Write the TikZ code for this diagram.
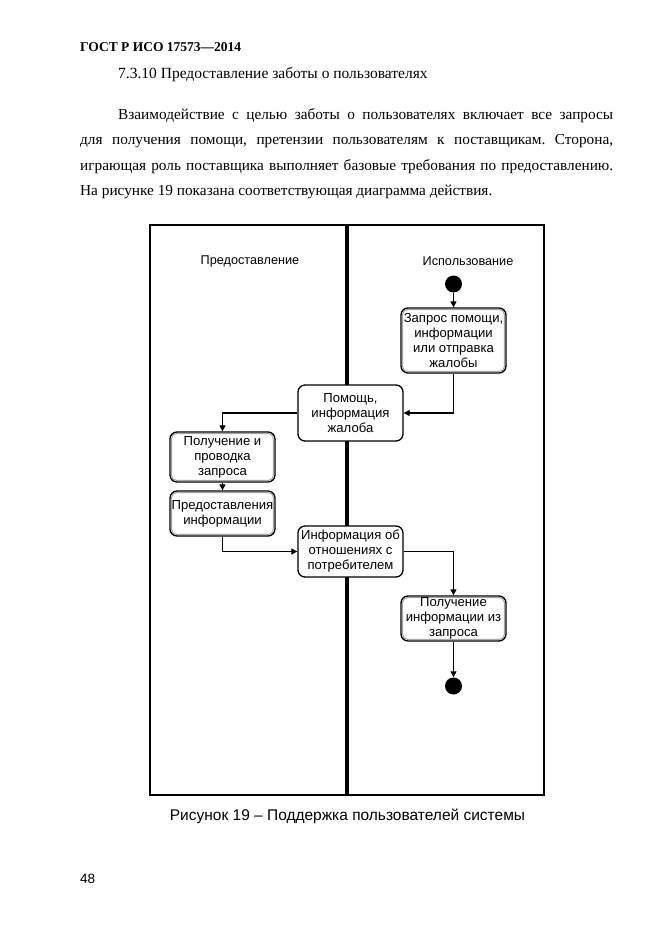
\documentclass[tikz,border=0pt]{standalone}
\usepackage{fontspec}
\setmainfont{Liberation Serif}
\newfontfamily\diafont{Liberation Sans}
\usetikzlibrary{arrows.meta}
\frenchspacing
\tikzset{
  txt/.style={inner sep=0pt, anchor=base west},
  para/.style={txt, font=\fontsize{15.3}{17}\selectfont},
  lbl/.style={inner sep=0pt, font=\diafont\fontsize{12.7}{15}\selectfont},
  box/.style={draw=black, line width=1.3pt, rounded corners=7pt, fill=white, align=center,
    inner sep=0.5pt, minimum width=105pt, font=\diafont\fontsize{13.1}{15}\selectfont},
  shbox/.style={box, path picture={\draw[black!35, line width=1pt, rounded corners=5pt]
    ([shift={(1.6pt,-1.6pt)}]path picture bounding box.north west) rectangle
    ([shift={(-1.6pt,1.6pt)}]path picture bounding box.south east);}},
  dot/.style={circle, fill=black, inner sep=0pt, minimum size=17pt},
  arr/.style={line width=1.2pt, -{Triangle[length=6pt,width=6pt]}},
}
\begin{document}
\begin{tikzpicture}[x=1pt,y=-1pt]
\useasboundingbox (0,0) rectangle (661,935);
% page text
\node[txt, font=\bfseries\fontsize{13.5}{15}\selectfont] (hdr) at (80,51.5) {ГОСТ Р ИСО 17573—2014};
\node[txt, font=\fontsize{15.5}{17}\selectfont] (sec) at (118,78) {7.3.10 Предоставление заботы о пользователях};
\node[para] (p1) at (118,119) {\makebox[495pt][s]{Взаимодействие с целью заботы о пользователях включает все запросы}};
\node[para] (p2) at (80,144.5) {\makebox[533pt][s]{для получения помощи, претензии пользователям к поставщикам. Сторона,}};
\node[para] (p3) at (80,170) {\makebox[533pt][s]{играющая роль поставщика выполняет базовые требования по предоставлению.}};
\node[para] (p4) at (80,195.5) {На рисунке 19 показана соответствующая диаграмма действия.};
% frame
\draw[line width=2pt] (150,225) rectangle (544,795);
\draw[line width=3.5pt] (347,225) -- (347,795);
\node[lbl] (laneL) at (250,261) {Предоставление};
\node[lbl] (laneR) at (468,261) {Использование};
% nodes
\node[dot] (start) at (453.5,284) {};
\node[shbox, minimum height=65pt] (b1) at (453.5,340.5) {Запрос помощи,\\информации\\или отправка\\жалобы};
\node[box, minimum height=56pt] (help) at (350.5,413) {Помощь,\\информация\\жалоба};
\node[shbox, minimum height=50pt] (recv) at (222.5,457) {Получение и\\проводка\\запроса};
\node[shbox, minimum height=45pt] (prov) at (222.5,513.5) {Предоставления\\информации};
\node[box, minimum height=51pt] (info) at (350.5,551.5) {Информация об\\отношениях с\\потребителем};
\node[shbox, minimum height=45pt] (get) at (453.5,618.5) {Получение\\информации из\\запроса};
\node[dot] (end) at (453.5,686) {};
% connectors
\draw[arr] (start) -- (b1);
\draw[arr] (b1.south) |- (help.east);
\draw[arr] (help.west) -| (recv.north);
\draw[arr] (recv) -- (prov);
\draw[arr] (prov.south) |- (info.west);
\draw[arr] (info.east) -| (get.north);
\draw[arr] (get) -- (end);
% caption
\node[txt, font=\diafont\fontsize{15.5}{17}\selectfont, anchor=base] (cap) at (347.5,820.5) {Рисунок 19 – Поддержка пользователей системы};
\node[txt, font=\diafont\fontsize{13.5}{15}\selectfont] (pg) at (80,883) {48};
\end{tikzpicture}
\end{document}
